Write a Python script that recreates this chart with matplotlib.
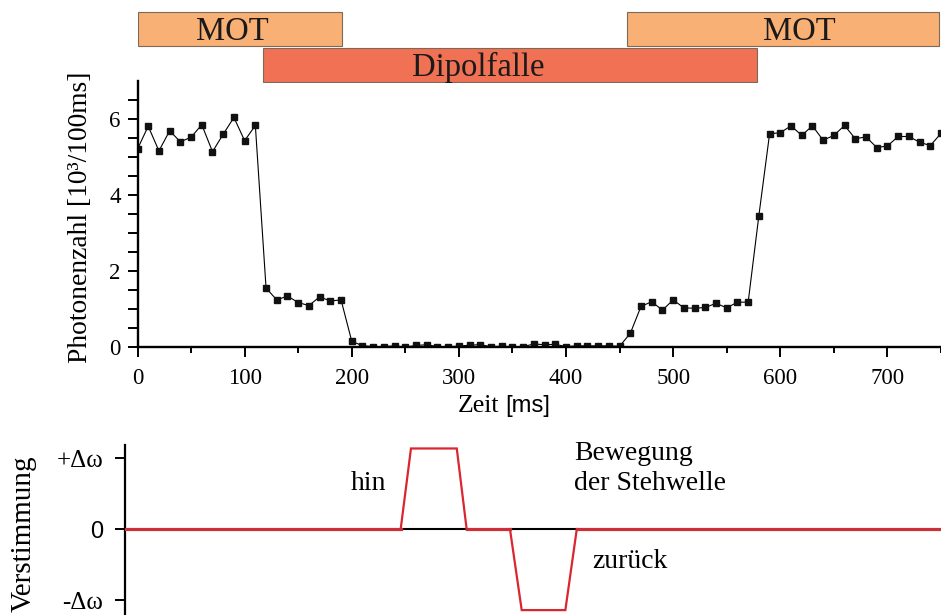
"""Photonenzahl im MOT / Dipolfalle-Zyklus und Verstimmung der Stehwelle."""
import matplotlib
matplotlib.use("Agg")
import matplotlib.pyplot as plt
import numpy as np

SERIF = "Liberation Serif"
SANS = "Liberation Sans"
plt.rcParams["font.family"] = SERIF

W, H = 941, 615  # Pixel

# Messdaten: Photonenzahl [10^3/100ms], alle 10 ms
zeit = np.arange(0, 760, 10)
photonen = [5.21, 5.81, 5.16, 5.69, 5.40, 5.52, 5.85, 5.14, 5.60, 6.04, 5.43, 5.83,
            1.55, 1.24, 1.34, 1.17, 1.09, 1.32, 1.21, 1.24,
            0.15,
            0.035, 0.01, 0.01, 0.03, 0.0, 0.04, 0.06, 0.01, 0.01, 0.02, 0.05, 0.06,
            0.01, 0.02, 0.01, 0.01, 0.08, 0.06, 0.07, 0.01, 0.03, 0.03, 0.03, 0.03,
            0.02, 0.36,
            1.07, 1.19, 0.97, 1.24, 1.03, 1.02, 1.04, 1.15, 1.03, 1.18, 1.18,
            3.46,
            5.61, 5.64, 5.82, 5.57, 5.82, 5.44, 5.57, 5.83, 5.48, 5.53, 5.25, 5.29,
            5.54, 5.54, 5.39, 5.30, 5.62]

# Phasen (ms)
phase_name = ["MOT", "Dipolfalle", "MOT"]
phase_start = [0, 117, 455]
phase_end = [190, 576, 746]
phase_row = [0, 1, 0]
phase_label_x = [88, 317, 616]
phase_color = ["#f9b074", "#f07153", "#f9b074"]

# Verstimmung (schematisch), Einheit Delta omega
verst_t = [-11.6, 244.8, 254.4, 297.0, 306.2, 346.5, 357.4, 398.0, 408.6, 747.4]
verst_v = [0, 0, 1.14, 1.14, 0, 0, -1.14, -1.14, 0, 0]
basis_t = [(245, 306), (346.5, 408.6)]


def fx(x):
    return x / W


def fy(y):
    return 1 - y / H


fig = plt.figure(figsize=(W / 100, H / 100), dpi=100)

# --- Hauptplot
ax = fig.add_axes([fx(137.5), fy(347), 1 - fx(137.5), (347 - 81) / H])
ax.plot(zeit, photonen, "-", color="black", lw=0.8, marker="s", ms=4.5,
        mfc="#111111", mec="#111111")
ax.set_xlim(0, 747.4)
ax.set_ylim(0, 7)
for s in ["top", "right"]:
    ax.spines[s].set_visible(False)
for s in ["left", "bottom"]:
    ax.spines[s].set_linewidth(1.7)
ax.set_xticks(np.arange(0, 701, 100))
ax.set_xticks(np.arange(50, 751, 100), minor=True)
ax.set_yticks([0, 2, 4, 6])
ax.set_yticks(np.arange(0, 6.6, 0.5), minor=True)
ax.tick_params(axis="both", which="both", direction="out", width=1.4,
               labelsize=16.5)
ax.tick_params(axis="x", which="major", length=7, pad=8)
ax.tick_params(axis="x", which="minor", length=4.5)
ax.tick_params(axis="y", which="both", length=7, pad=5)

fig.text(fx(81), fy(217), "Photonenzahl [10³/100ms]", rotation=90,
         ha="center", va="center", fontsize=19.8)
fig.text(fx(499), fy(411.7), "Zeit", ha="right", va="baseline", fontsize=18.5)
fig.text(fx(505), fy(411.7), "[ms]", ha="left", va="baseline", fontsize=17.2,
         family=SANS)

# --- Phasenbalken
axb = fig.add_axes([fx(137.5), fy(83), 1 - fx(137.5), 72 / H])
axb.set_xlim(0, 747.4)
axb.set_ylim(1.5, -0.5)
axb.axis("off")
for name, a, b, r, lx, c in zip(phase_name, phase_start, phase_end, phase_row,
                                phase_label_x, phase_color):
    axb.barh(r, b - a, left=a, height=0.97, color=c, edgecolor="#7a6a5a",
             lw=0.8)
    axb.text(lx, r + 0.3, name, ha="center", va="baseline", fontsize=23.5,
             color="#1a1a1a")

# --- Verstimmung
axd = fig.add_axes([fx(125), 0, 1 - fx(125), (615 - 445) / H])
axd.set_xlim(-11.6, 747.4)
axd.set_ylim(-1.209, 1.189)
for s in ["top", "right", "bottom"]:
    axd.spines[s].set_visible(False)
axd.spines["left"].set_linewidth(1.6)
axd.set_xticks([])
axd.set_yticks([1, 0, -1])
axd.set_yticklabels(["+Δω", "0", "-Δω"])
axd.tick_params(axis="y", length=7.5, width=1.4, pad=8, labelsize=18)
axd.get_yticklabels()[1].set_fontfamily(SANS)
axd.get_yticklabels()[1].set_fontsize(17)
for a, b in basis_t:
    axd.plot([a, b], [0, 0], color="black", lw=1.5, zorder=2)
axd.plot(verst_t, verst_v, color="#d9262f", lw=1.6, zorder=3,
         solid_joinstyle="miter")
axd.plot([verst_t[0], verst_t[1]], [0, 0], color="#cc2f37", lw=2.3, zorder=3)
axd.plot([verst_t[4], verst_t[5]], [0, 0], color="#cc2f37", lw=2.3, zorder=3)
axd.plot([verst_t[8], verst_t[9]], [0, 0], color="#cc2f37", lw=2.3, zorder=3)

fig.text(fx(24), fy(534), "Verstimmung", rotation=90, ha="center",
         va="center", fontsize=21)
fig.text(fx(369), fy(490), "hin", ha="center", va="baseline", fontsize=20)
fig.text(fx(574), fy(460), "Bewegung", ha="left", va="baseline", fontsize=20)
fig.text(fx(574), fy(490.5), "der Stehwelle", ha="left", va="baseline",
         fontsize=20)
fig.text(fx(592), fy(567.7), "zurück", ha="left", va="baseline", fontsize=20)

fig.savefig("out.png", dpi=100)
